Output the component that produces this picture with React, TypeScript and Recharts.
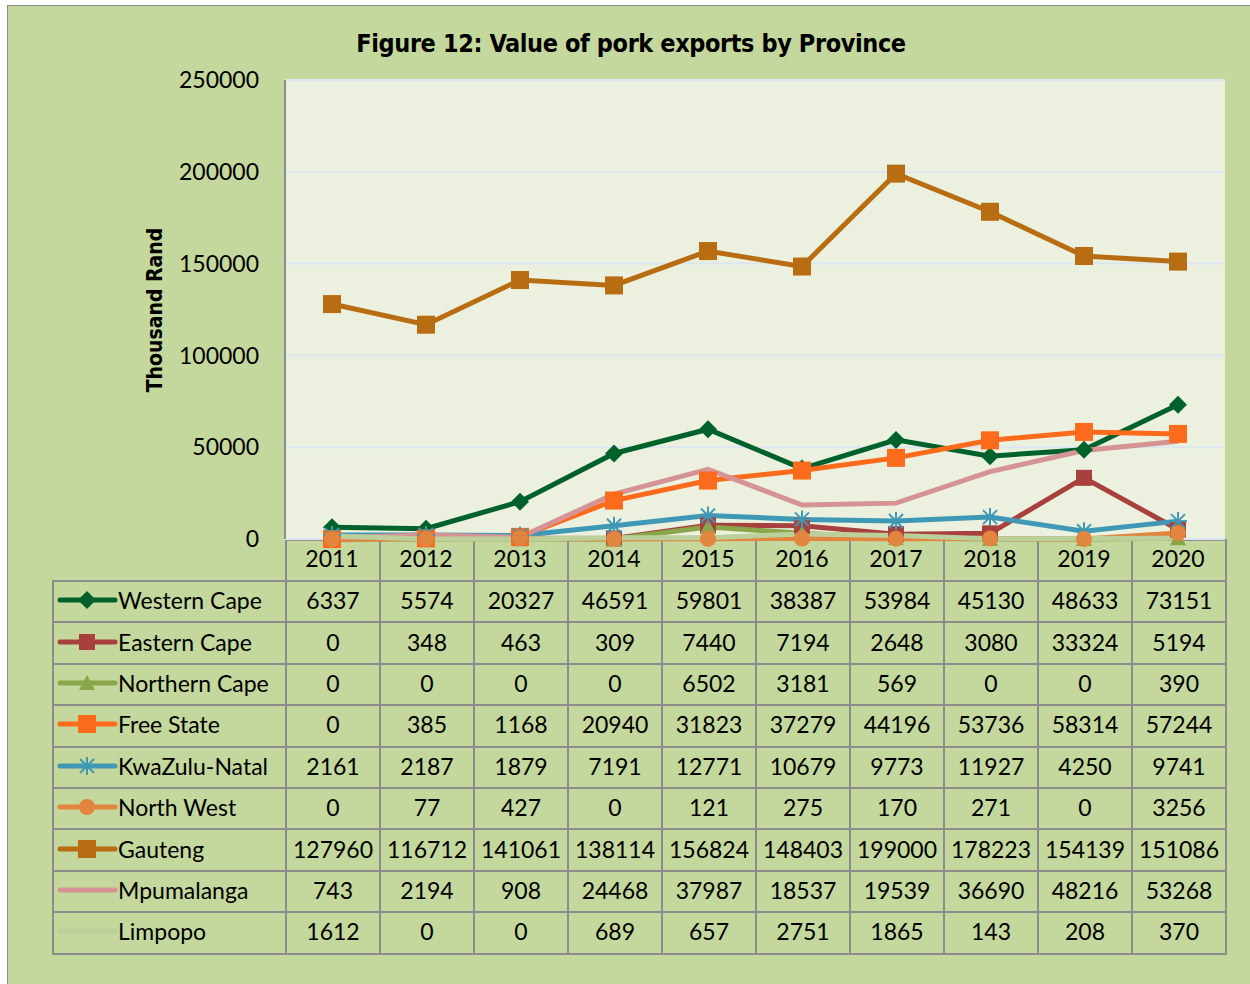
import React from 'react';
import { LineChart, Line, XAxis, YAxis, CartesianGrid } from 'recharts';

const YEARS = ['2011', '2012', '2013', '2014', '2015', '2016', '2017', '2018', '2019', '2020'];
const Y_TICKS = [0, 50000, 100000, 150000, 200000, 250000];

const WESTERN_CAPE = [6337, 5574, 20327, 46591, 59801, 38387, 53984, 45130, 48633, 73151];
const EASTERN_CAPE = [0, 348, 463, 309, 7440, 7194, 2648, 3080, 33324, 5194];
const NORTHERN_CAPE = [0, 0, 0, 0, 6502, 3181, 569, 0, 0, 390];
const FREE_STATE = [0, 385, 1168, 20940, 31823, 37279, 44196, 53736, 58314, 57244];
const KWAZULU_NATAL = [2161, 2187, 1879, 7191, 12771, 10679, 9773, 11927, 4250, 9741];
const NORTH_WEST = [0, 77, 427, 0, 121, 275, 170, 271, 0, 3256];
const GAUTENG = [127960, 116712, 141061, 138114, 156824, 148403, 199000, 178223, 154139, 151086];
const MPUMALANGA = [743, 2194, 908, 24468, 37987, 18537, 19539, 36690, 48216, 53268];
const LIMPOPO = [1612, 0, 0, 689, 657, 2751, 1865, 143, 208, 370];

type Marker = 'diamond' | 'square' | 'bigsquare' | 'triangle' | 'star' | 'circle' | 'none';

const SERIES: { key: string; name: string; color: string; marker: Marker; values: number[] }[] = [
  { key: 'wc', name: 'Western Cape', color: '#00612B', marker: 'diamond', values: WESTERN_CAPE },
  { key: 'ec', name: 'Eastern Cape', color: '#A8403E', marker: 'square', values: EASTERN_CAPE },
  { key: 'nc', name: 'Northern Cape', color: '#8AA64A', marker: 'triangle', values: NORTHERN_CAPE },
  { key: 'fs', name: 'Free State', color: '#FC6A1C', marker: 'bigsquare', values: FREE_STATE },
  { key: 'kzn', name: 'KwaZulu-Natal', color: '#3F98B5', marker: 'star', values: KWAZULU_NATAL },
  { key: 'nw', name: 'North West', color: '#E2853E', marker: 'circle', values: NORTH_WEST },
  { key: 'gp', name: 'Gauteng', color: '#B86D12', marker: 'bigsquare', values: GAUTENG },
  { key: 'mp', name: 'Mpumalanga', color: '#D59394', marker: 'none', values: MPUMALANGA },
  { key: 'lp', name: 'Limpopo', color: '#BBD09A', marker: 'none', values: LIMPOPO },
];

const data = YEARS.map((year, i) => {
  const row: Record<string, string | number> = { year };
  SERIES.forEach((s) => {
    row[s.key] = s.values[i];
  });
  return row;
});

function drawMarker(type: Marker, color: string, cx: number, cy: number, key?: string | number) {
  switch (type) {
    case 'diamond':
      return (
        <path key={key} d={`M${cx},${cy - 9} L${cx + 9},${cy} L${cx},${cy + 9} L${cx - 9},${cy} Z`} fill={color} />
      );
    case 'square':
      return <rect key={key} x={cx - 8} y={cy - 8} width={16} height={16} fill={color} />;
    case 'bigsquare':
      return <rect key={key} x={cx - 9} y={cy - 9} width={18} height={18} fill={color} />;
    case 'triangle':
      return <path key={key} d={`M${cx},${cy - 8} L${cx + 8},${cy + 7} L${cx - 8},${cy + 7} Z`} fill={color} />;
    case 'circle':
      return <circle key={key} cx={cx} cy={cy} r={8} fill={color} />;
    case 'star':
      return (
        <g key={key} stroke={color} strokeWidth={2}>
          <line x1={cx - 9} y1={cy} x2={cx + 9} y2={cy} />
          <line x1={cx} y1={cy - 9} x2={cx} y2={cy + 9} />
          <line x1={cx - 7} y1={cy - 7} x2={cx + 7} y2={cy + 7} />
          <line x1={cx - 7} y1={cy + 7} x2={cx + 7} y2={cy - 7} />
        </g>
      );
    default:
      return <g key={key} />;
  }
}

const LegendKey = ({ color, marker }: { color: string; marker: Marker }) => (
  <svg width={62} height={22} style={{ display: 'block', marginLeft: 2, flex: 'none' }}>
    <line x1={4} y1={11} x2={59} y2={11} stroke={color} strokeWidth={5} strokeLinecap="round" />
    {drawMarker(marker, color, 31, 11)}
  </svg>
);

const FONT = 'Lato, "Open Sans", sans-serif';
const GRID = '2px solid #8C8C8C';
const ROW_H = 41.4;

const App = () => (
  <div style={{ position: 'absolute', left: 0, top: 0, width: 1250, height: 984, overflow: 'hidden', fontFamily: FONT, background: '#fff' }}>
    <div
      style={{
        position: 'absolute',
        left: 7,
        top: 5,
        width: 1270,
        height: 1000,
        background: '#C4D79C',
        border: '1.5px solid #8C8C8C',
      }}
    />
    <div
      style={{
        position: 'absolute',
        left: 0,
        top: 29,
        width: 1262,
        textAlign: 'center',
        fontFamily: '"Liberation Sans Narrow", "DejaVu Sans Condensed", sans-serif',
        fontWeight: 700,
        fontSize: 25,
        letterSpacing: -0.4,
        color: '#000',
      }}
    >
      Figure 12: Value of pork exports by Province
    </div>
    <div
      style={{
        position: 'absolute',
        left: 155,
        top: 310,
        transform: 'translate(-50%, -50%) rotate(-90deg)',
        whiteSpace: 'nowrap',
        fontFamily: '"Liberation Sans Narrow", "DejaVu Sans Condensed", sans-serif',
        fontWeight: 700,
        fontSize: 21,
        color: '#000',
      }}
    >
      Thousand Rand
    </div>

    <table
      style={{
        position: 'absolute',
        left: 52,
        top: 539,
        width: 1173,
        borderCollapse: 'collapse',
        tableLayout: 'fixed',
        fontSize: 23,
        color: '#000',
      }}
    >
      <colgroup>
        <col style={{ width: 233 }} />
        {YEARS.map((y) => (
          <col key={y} style={{ width: 94 }} />
        ))}
      </colgroup>
      <tbody>
        <tr style={{ height: 41 }}>
          <td style={{ border: 'none', padding: 0 }} />
          {YEARS.map((y) => (
            <td key={y} style={{ border: GRID, padding: 0 }} />
          ))}
        </tr>
        {SERIES.map((s) => (
          <tr key={s.key} style={{ height: ROW_H }}>
            <td style={{ border: GRID, padding: 0, whiteSpace: 'nowrap' }}>
              <div style={{ display: 'flex', alignItems: 'center', marginTop: -3 }}>
                <LegendKey color={s.color} marker={s.marker} />
                <span>{s.name}</span>
              </div>
            </td>
            {s.values.map((v, i) => (
              <td key={i} style={{ border: GRID, padding: '0 0 3px 0', textAlign: 'center' }}>
                {v}
              </td>
            ))}
          </tr>
        ))}
      </tbody>
    </table>

    <div style={{ position: 'absolute', left: 0, top: 0, pointerEvents: 'none' }}>
      <LineChart width={1250} height={984} data={data} margin={{ top: 80, right: 25, bottom: 415, left: 205 }}>
        <CartesianGrid vertical={false} stroke="#DCE6F1" strokeWidth={2} fill="#EBF1DE" />
        <XAxis
          dataKey="year"
          height={30}
          padding={{ left: 47, right: 47 }}
          axisLine={false}
          tickLine={false}
          tickSize={0}
          tickMargin={12}
          tick={{ fill: '#000', fontSize: 23, fontFamily: FONT }}
          interval={0}
        />
        <YAxis
          width={80}
          domain={[0, 250000]}
          ticks={Y_TICKS}
          interval={0}
          axisLine={{ stroke: '#8C8C8C', strokeWidth: 2 }}
          tickLine={false}
          tickSize={0}
          tickMargin={26}
          tick={{ fill: '#000', fontSize: 23, fontFamily: FONT }}
        />
        {SERIES.map((s) => (
          <Line
            key={s.key}
            dataKey={s.key}
            name={s.name}
            stroke={s.color}
            strokeWidth={5}
            isAnimationActive={false}
            activeDot={false}
            dot={(p: any) => drawMarker(s.marker, s.color, p.cx, p.cy, `${s.key}-${p.index}`)}
          />
        ))}
      </LineChart>
    </div>
  </div>
);

export default App;
